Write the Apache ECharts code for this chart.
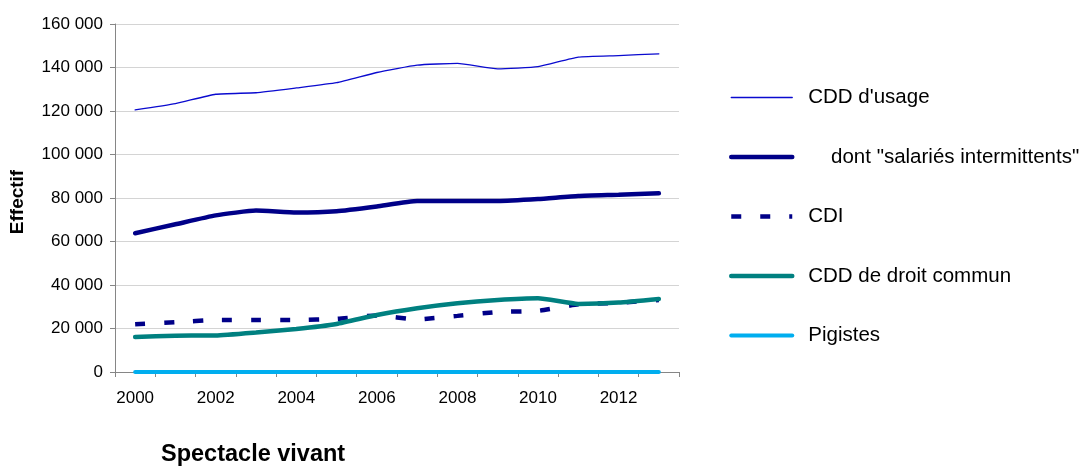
<!DOCTYPE html>
<html>
<head>
<meta charset="utf-8">
<script src="https://cdn.jsdelivr.net/npm/echarts@6/dist/echarts.min.js"></script>
<style>
  html, body { margin: 0; padding: 0; background: #fff; }
  #chart { width: 1082px; height: 469px; }
</style>
</head>
<body>
<div id="chart"></div>
<script>
// Effectifs par type de contrat – spectacle vivant, 2000–2013
const years = ['2000','2001','2002','2003','2004','2005','2006','2007','2008','2009','2010','2011','2012','2013'];
const cddUsage = [120500, 123400, 127700, 128400, 130600, 133000, 137700, 141100, 141900, 139400, 140400, 144800, 145500, 146300];
const intermittents = [63800, 67900, 72000, 74200, 73300, 73900, 76100, 78600, 78600, 78600, 79500, 80900, 81500, 82200];
const cdi = [22000, 22900, 23900, 23900, 23900, 24400, 26000, 24200, 25800, 27600, 28100, 31100, 31800, 33100];
const cddDroitCommun = [16100, 16700, 16800, 18200, 19800, 22100, 26200, 29300, 31600, 33100, 33900, 31300, 31900, 33600];
const pigistes = [0, 0, 0, 0, 0, 0, 0, 0, 0, 0, 0, 0, 0, 0];
const yTicks = { min: 0, max: 160000, step: 20000 };

const FONT = '"Liberation Sans", Arial, sans-serif';
const fmt = v => String(v).replace(/\B(?=(\d{3})+(?!\d))/g, ' ');

const chart = echarts.init(document.getElementById('chart'), null, { renderer: 'canvas' });

// series definitions: name, values, colour, width, dash
const defs = [
  ['CDD d\'usage', cddUsage, '#0A0ACF', 1.3, 'solid'],
  ['dont "salariés intermittents"', intermittents, '#000088', 4.5, 'solid'],
  ['CDI', cdi, '#000088', 4.5, [10, 19]],
  ['CDD de droit commun', cddDroitCommun, '#008080', 4.5, 'solid'],
  ['Pigistes', pigistes, '#00AEEF', 4, 'solid']
];

const capOf = type => (type === 'solid' ? 'round' : 'butt');

const series = defs.map(([name, data, color, width, type]) => ({
  name, type: 'line', data,
  symbol: 'none', smooth: 0.15,
  lineStyle: { color, width, type, cap: capOf(type) },
  itemStyle: { color },
  emphasis: { disabled: true },
  animation: false
}));

const legendData = defs.map(([name, , color, width, type]) => ({
  name,
  itemStyle: { opacity: 0 },
  lineStyle: { color, width, type, cap: capOf(type), opacity: 1 }
}));

chart.setOption({
  backgroundColor: '#fff',
  animation: false,
  grid: { left: 115, right: 403, top: 24, bottom: 97, containLabel: false, outerBoundsMode: 'none' },
  xAxis: {
    type: 'category',
    data: years,
    boundaryGap: true,
    axisLine: { lineStyle: { color: '#868686', width: 1 } },
    axisTick: { show: true, interval: 0, length: 5, lineStyle: { color: '#868686' } },
    axisLabel: { interval: 1, margin: 18, fontSize: 17, fontFamily: FONT, color: '#000' },
    splitLine: { show: false }
  },
  yAxis: {
    type: 'value',
    min: yTicks.min, max: yTicks.max, interval: yTicks.step,
    axisLine: { show: true, lineStyle: { color: '#868686', width: 1 } },
    axisTick: { show: true, length: 5, lineStyle: { color: '#868686' } },
    axisLabel: { margin: 12, fontSize: 17, fontFamily: FONT, color: '#000', formatter: fmt },
    splitLine: { lineStyle: { color: '#D4D4D4', width: 1 } }
  },
  legend: {
    orient: 'vertical',
    left: 729,
    top: 87,
    padding: 0,
    itemWidth: 61,
    itemHeight: 14,
    itemGap: 38.5,
    selectedMode: false,
    textStyle: { fontSize: 20.5, fontFamily: FONT, color: '#000', padding: [0, 0, 0, 11], lineHeight: 20 },
    formatter: name => name === 'dont "salariés intermittents"' ? '    ' + name : name,
    data: legendData
  },
  graphic: [{
    type: 'text',
    x: 18, y: 202,
    rotation: Math.PI / 2,
    style: { text: 'Effectif', font: 'bold 19px ' + FONT, fill: '#000', align: 'center', verticalAlign: 'middle' }
  }, {
    type: 'text',
    x: 161, y: 455,
    style: { text: 'Spectacle vivant', font: 'bold 23.5px ' + FONT, fill: '#000', align: 'left', verticalAlign: 'middle' }
  }],
  series
});
</script>
</body>
</html>
